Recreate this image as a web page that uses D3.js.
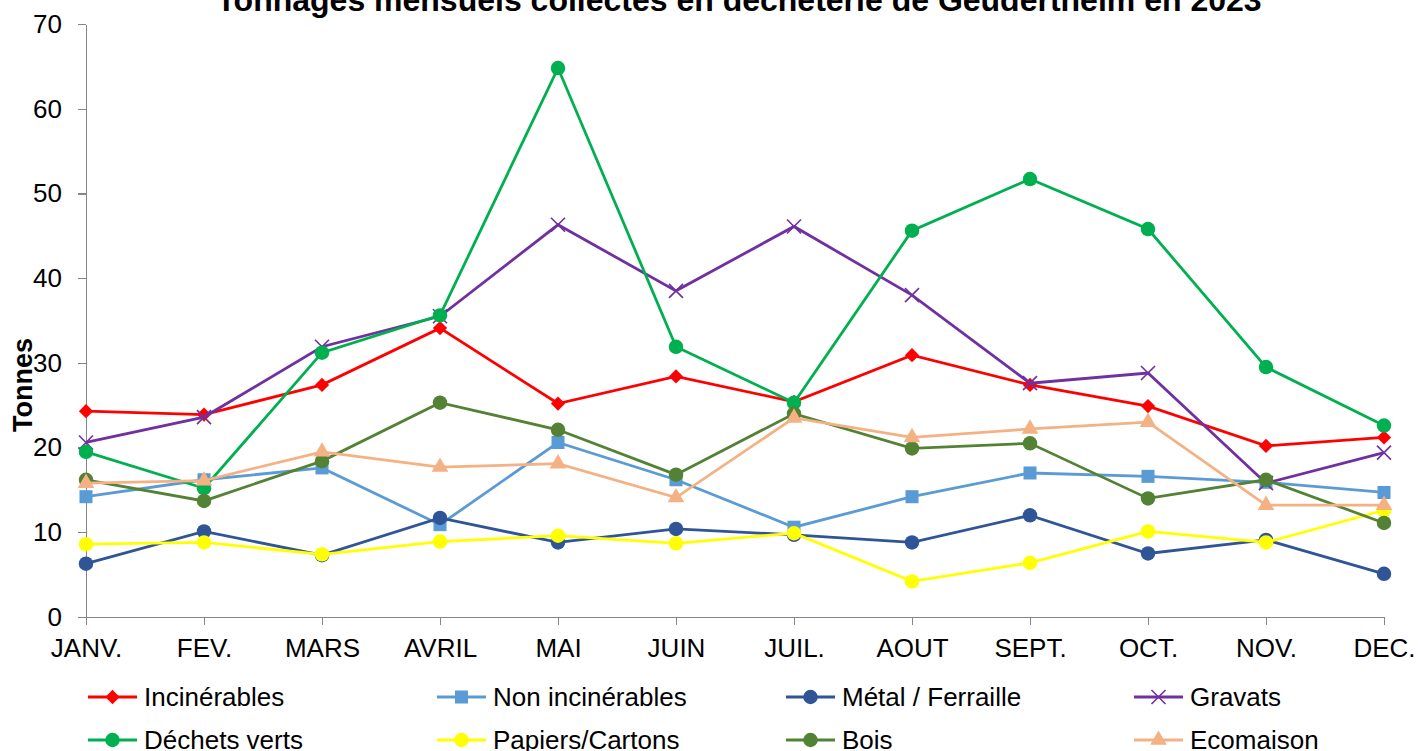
<!DOCTYPE html>
<html>
<head>
<meta charset="utf-8">
<title>Tonnages mensuels</title>
<script src="https://d3js.org/d3.v7.min.js"></script>
<style>
    body { margin: 0; background: #fff; }
    text { font-family: "Liberation Sans", Arial, sans-serif; fill: #000; }
    .axis path, .axis line { stroke: #868686; stroke-width: 1.3; shape-rendering: crispEdges; }
    .axis text { font-size: 26px; fill: #000; font-family: "Liberation Sans", Arial, sans-serif; }
</style>
</head>
<body>
<div id="chart"></div>
<script>
    // months on the x axis
    var months = ["JANV.", "FEV.", "MARS", "AVRIL", "MAI", "JUIN", "JUIL.", "AOUT", "SEPT.", "OCT.", "NOV.", "DEC."];
    var yTicks = [0, 10, 20, 30, 40, 50, 60, 70];

    // tonnes per month
    var incinerables    = [24.3, 23.9, 27.4, 34.1, 25.2, 28.4, 25.4, 30.9, 27.4, 24.9, 20.2, 21.2];
    var nonIncinerables = [14.2, 16.2, 17.6, 10.9, 20.6, 16.2, 10.6, 14.2, 17.0, 16.6, 15.9, 14.7];
    var metal           = [6.3, 10.1, 7.3, 11.7, 8.8, 10.4, 9.7, 8.8, 12.0, 7.5, 9.1, 5.1];
    var gravats         = [20.6, 23.6, 31.9, 35.5, 46.3, 38.5, 46.1, 38.0, 27.6, 28.8, 15.8, 19.4];
    var dechetsVerts    = [19.5, 15.2, 31.2, 35.6, 64.8, 31.9, 25.3, 45.6, 51.7, 45.8, 29.5, 22.6];
    var papiers         = [8.6, 8.8, 7.4, 8.9, 9.6, 8.7, 9.9, 4.2, 6.4, 10.1, 8.8, 12.6];
    var bois            = [16.2, 13.7, 18.4, 25.3, 22.1, 16.8, 24.0, 19.9, 20.5, 14.0, 16.2, 11.1];
    var ecomaison       = [15.8, 16.1, 19.5, 17.7, 18.1, 14.1, 23.5, 21.2, 22.2, 23.0, 13.2, 13.2];

    var seriesNames = ["Incinérables", "Non incinérables", "Métal / Ferraille", "Gravats",
                       "Déchets verts", "Papiers/Cartons", "Bois", "Ecomaison"];

    var series = [
        {name: seriesNames[0], values: incinerables,    color: "#FF0000", shape: "diamond"},
        {name: seriesNames[1], values: nonIncinerables, color: "#5B9BD5", shape: "square"},
        {name: seriesNames[2], values: metal,           color: "#2F5597", shape: "circle"},
        {name: seriesNames[3], values: gravats,         color: "#7030A0", shape: "x"},
        {name: seriesNames[4], values: dechetsVerts,    color: "#00B050", shape: "circle"},
        {name: seriesNames[5], values: papiers,         color: "#FFFF00", shape: "circle"},
        {name: seriesNames[6], values: bois,            color: "#548235", shape: "circle"},
        {name: seriesNames[7], values: ecomaison,       color: "#F4B183", shape: "triangle"}
    ];

    var width = 1418, height = 751;

    var svg = d3.select("#chart").append("svg")
        .attr("width", width)
        .attr("height", height);

    var x = d3.scalePoint().domain(months).range([86, 1384]);
    var y = d3.scaleLinear().domain([0, 70]).range([617, 24]);

    //marker shapes
    var symbolFor = {
        circle: d3.symbol().type(d3.symbolCircle).size(165),
        square: d3.symbol().type(d3.symbolSquare).size(170),
        diamond: d3.symbol().type(d3.symbolDiamond2).size(130),
        triangle: d3.symbol().type(d3.symbolTriangle).size(120)
    };
    function marker(g, shape, color) {
        if (shape == "x") {
            g.append("path")
                .attr("d", "M-7,-7L7,7M-7,7L7,-7")
                .style("fill", "none")
                .style("stroke", color)
                .style("stroke-width", 1.6);
        } else {
            g.append("path")
                .attr("d", symbolFor[shape]())
                .style("fill", color);
        }
    }

    // title (partly cut off at the top, as in the original)
    svg.append("text")
        .attr("x", 739)
        .attr("y", 11)
        .style("text-anchor", "middle")
        .style("font-weight", "bold")
        .style("font-size", "32px")
        .text("Tonnages mensuels collectés en déchèterie de Geudertheim en 2023");

    // axes
    svg.append("g")
        .attr("class", "axis")
        .attr("transform", "translate(86,0)")
        .call(d3.axisLeft(y).tickValues(yTicks).tickSize(8).tickPadding(16).tickSizeOuter(0));

    svg.append("g")
        .attr("class", "axis")
        .attr("transform", "translate(0,617)")
        .call(d3.axisBottom(x).tickSize(8).tickPadding(10).tickSizeOuter(0))
        .selectAll("text").attr("dy", "0.85em");

    svg.append("text")
        .attr("transform", "translate(32,385) rotate(-90)")
        .style("text-anchor", "middle")
        .style("font-weight", "bold")
        .style("font-size", "27px")
        .text("Tonnes");

    var line = d3.line()
        .x(function(d, i) { return x(months[i]); })
        .y(function(d) { return y(d); });

    series.forEach(function(s) {
        var g = svg.append("g");
        g.append("path")
            .datum(s.values)
            .attr("d", line)
            .style("fill", "none")
            .style("stroke", s.color)
            .style("stroke-width", 2.8);
        s.values.forEach(function(v, i) {
            var m = g.append("g").attr("transform", "translate(" + x(months[i]) + "," + y(v) + ")");
            marker(m, s.shape, s.color);
        });
    });

    // legend, 4 columns x 2 rows
    var legendX = [88, 437, 786, 1134];
    var legendY = [697, 740];
    series.forEach(function(s, i) {
        var lg = svg.append("g")
            .attr("transform", "translate(" + legendX[i % 4] + "," + legendY[Math.floor(i / 4)] + ")");
        lg.append("line")
            .attr("x1", 0).attr("x2", 49)
            .style("stroke", s.color)
            .style("stroke-width", 2.8);
        var m = lg.append("g").attr("transform", "translate(24.5,0)");
        marker(m, s.shape, s.color);
        lg.append("text")
            .attr("x", 56)
            .attr("dy", "0.35em")
            .style("font-size", "26px")
            .text(s.name);
    });
</script>
</body>
</html>
